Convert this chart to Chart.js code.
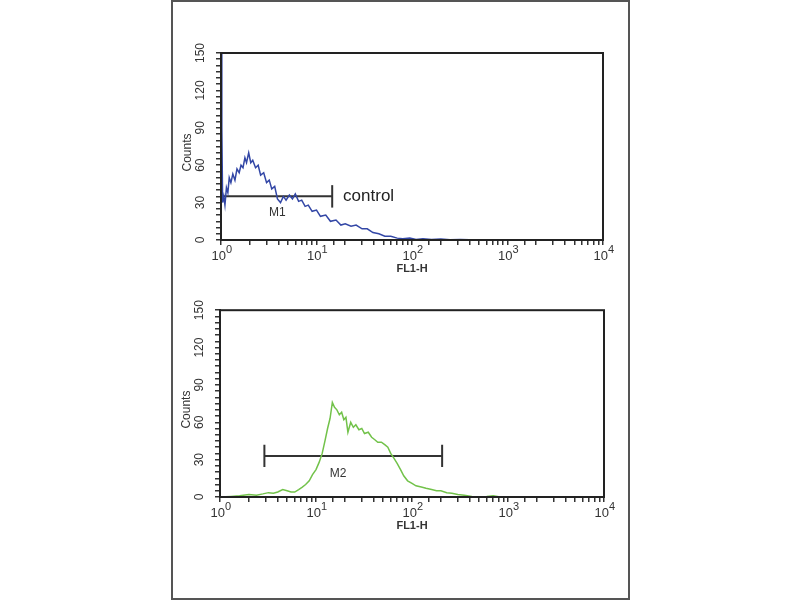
<!DOCTYPE html>
<html>
<head>
<meta charset="utf-8">
<script src="https://cdn.jsdelivr.net/npm/chart.js@4/dist/chart.umd.min.js"></script>
<style>
  body { margin: 0; background: #fff; }
  #frame { position: absolute; left: 171px; top: 0px; width: 455px; height: 596px; border: 2px solid #555; }
  canvas { position: absolute; left: 0; }
</style>
</head>
<body>
<div id="frame"></div>
<canvas id="top" width="800" height="300" style="top:0px"></canvas>
<canvas id="bottom" width="800" height="300" style="top:300px"></canvas>
<script>
// control histogram (blue)
const ctrlX = [1.0, 1.02, 1.04, 1.07, 1.1, 1.14, 1.18, 1.22, 1.27, 1.33, 1.4, 1.47, 1.55, 1.62, 1.7, 1.78, 1.85, 1.95, 2.05, 2.15, 2.3, 2.45, 2.6, 2.8, 3.0, 3.2, 3.4, 3.65, 3.9, 4.2, 4.5, 4.8, 5.2, 5.6, 6.0, 6.5, 7.0, 7.6, 8.2, 9.0, 10, 11, 12.5, 14, 16, 18, 20, 23, 26, 30, 34, 39, 45, 52, 60, 70, 80, 95, 110, 130, 160, 200, 250, 320, 400, 500, 10000];
const ctrlY = [150, 90, 30, 35, 28, 42, 38, 50, 46, 53, 48, 57, 54, 60, 58, 66, 62, 70, 62, 64, 58, 60, 52, 54, 46, 48, 41, 43, 33, 30, 35, 32, 36, 33, 37, 31, 32, 27, 28, 23, 24, 19, 20, 15, 16, 12, 13, 11, 12, 9, 9, 6, 5, 3, 3, 1.5, 1, 1.5, 0.5, 1, 0.5, 0.8, 0.3, 0.5, 0.2, 0, 0];

// sample histogram (green)
const sampX = [1, 1.3, 1.6, 2, 2.4, 2.8, 3.2, 3.6, 4.0, 4.5, 5.0, 5.5, 6.0, 6.6, 7.2, 7.8, 8.5, 9.2, 10, 10.8, 11.6, 12.4, 13.2, 14, 14.8, 15.6, 16.5, 17.5, 18.5, 19.5, 20.5, 21.5, 23, 24.5, 26, 28, 30, 32, 35, 38, 41, 44, 48, 52, 56, 60, 65, 70, 76, 82, 90, 100, 110, 125, 140, 160, 180, 200, 230, 260, 300, 350, 420, 500, 600, 700, 800, 1000, 10000];
const sampY = [0, 0.5, 1, 2, 1.5, 2.5, 3.5, 3, 4, 6, 5, 4, 4, 6, 8, 10, 13, 18, 22, 28, 35, 45, 55, 63, 76, 72, 70, 66, 68, 62, 64, 52, 60, 56, 58, 54, 55, 51, 52, 48, 46, 44, 44, 42, 40, 35, 31, 27, 22, 17, 13, 11, 9, 8, 7, 6, 5, 5, 3.5, 3, 2, 1.5, 0.5, 0.3, 0.5, 1, 0.3, 0, 0];

// markers: [start, end, level]
const m1 = [1, 14.6, 35];
const m2 = [2.9, 206, 33];

const decades = [1, 10, 100, 1000, 10000];
const expLabels = ['0', '1', '2', '3', '4'];
const yLabels = [0, 30, 60, 90, 120, 150];

function pts(xs, ys) {
  return xs.map((x, i) => ({ x: x, y: ys[i] }));
}

function markerSets(m) {
  return [
    { data: [{ x: m[0], y: m[2] }, { x: m[1], y: m[2] }], borderColor: '#333', borderWidth: 2, pointRadius: 0 },
    { data: [{ x: m[0], y: m[2] - 9 }, { x: m[0], y: m[2] + 9 }], borderColor: '#333', borderWidth: 2, pointRadius: 0 },
    { data: [{ x: m[1], y: m[2] - 9 }, { x: m[1], y: m[2] + 9 }], borderColor: '#333', borderWidth: 2, pointRadius: 0 }
  ];
}

const axisText = {
  id: 'axisText',
  afterDraw(chart) {
    const ctx = chart.ctx;
    const a = chart.chartArea;
    const xs = chart.scales.x, ys = chart.scales.y;
    ctx.save();
    // frame
    ctx.strokeStyle = '#222';
    ctx.lineWidth = 2;
    ctx.strokeRect(a.left, a.top, a.right - a.left, a.bottom - a.top);
    ctx.fillStyle = '#333';
    // x decade labels
    decades.forEach((d, i) => {
      const px = xs.getPixelForValue(d);
      ctx.font = '13px "Liberation Sans", Arial';
      ctx.textAlign = 'right';
      ctx.textBaseline = 'alphabetic';
      ctx.fillText('10', px + 5, a.bottom + 20);
      ctx.font = '11px "Liberation Sans", Arial';
      ctx.textAlign = 'left';
      ctx.fillText(expLabels[i], px + 5, a.bottom + 13);
    });
    // y labels rotated
    ctx.font = '12px "Liberation Sans", Arial';
    ctx.textAlign = 'center';
    ctx.textBaseline = 'middle';
    yLabels.forEach(v => {
      const py = ys.getPixelForValue(v);
      ctx.save();
      ctx.translate(a.left - 20, py);
      ctx.rotate(-Math.PI / 2);
      ctx.fillText(String(v), 0, 0);
      ctx.restore();
    });
    ctx.save();
    ctx.translate(a.left - 33, (a.top + a.bottom) / 2 + 6);
    ctx.rotate(-Math.PI / 2);
    ctx.font = '12px "Liberation Sans", Arial';
    ctx.fillText('Counts', 0, 0);
    ctx.restore();
    // marker labels
    const opts = chart.options.plugins.axisText;
    ctx.font = '12px "Liberation Sans", Arial';
    ctx.textAlign = 'center';
    ctx.fillText(opts.marker, xs.getPixelForValue(opts.markerAt), ys.getPixelForValue(opts.marker == 'M1' ? 22 : 19));
    if (opts.note) {
      ctx.font = '17px "Liberation Sans", Arial';
      ctx.textAlign = 'left';
      ctx.fillStyle = '#222';
      ctx.fillText(opts.note, xs.getPixelForValue(opts.noteAt), ys.getPixelForValue(35));
    }
    ctx.restore();
  }
};

function makeChart(id, series, color, marker, markerAt, note, pad) {
  return new Chart(document.getElementById(id).getContext('2d'), {
    type: 'line',
    data: {
      datasets: [
        { data: series, borderColor: color, borderWidth: 1.5, pointRadius: 0, tension: 0 }
      ].concat(markerSets(marker === 'M1' ? m1 : m2))
    },
    options: {
      responsive: false,
      animation: false,
      layout: { padding: pad },
      plugins: {
        legend: { display: false },
        tooltip: { enabled: false },
        axisText: { marker: marker, markerAt: markerAt, note: note, noteAt: 19 }
      },
      scales: {
        x: {
          type: 'logarithmic',
          min: 1, max: 10000,
          afterFit: s => { s.height = 36; },
          grid: { drawOnChartArea: false, tickLength: 5, color: '#333', lineWidth: 1.5 },
          border: { display: true, color: '#222', width: 2 },
          ticks: { autoSkip: false, callback: () => '' },
          title: { display: true, text: 'FL1-H', font: { size: 11, weight: 'bold', family: '"Liberation Sans", Arial' }, color: '#333', padding: 0 }
        },
        y: {
          min: 0, max: 150,
          afterFit: s => { s.width = 50; },
          grid: { drawOnChartArea: false, tickLength: 5, color: '#333', lineWidth: 1.5 },
          border: { display: true, color: '#222', width: 2 },
          ticks: { stepSize: 5, autoSkip: false, callback: () => '' }
        }
      }
    },
    plugins: [axisText]
  });
}

makeChart('top', pts(ctrlX, ctrlY), '#3347a6', 'M1', 3.9, 'control', { left: 171, right: 197, top: 53, bottom: 24 });
makeChart('bottom', pts(sampX, sampY), '#72c24a', 'M2', 17, null, { left: 170, right: 196, top: 9, bottom: 67 });
</script>
</body>
</html>
